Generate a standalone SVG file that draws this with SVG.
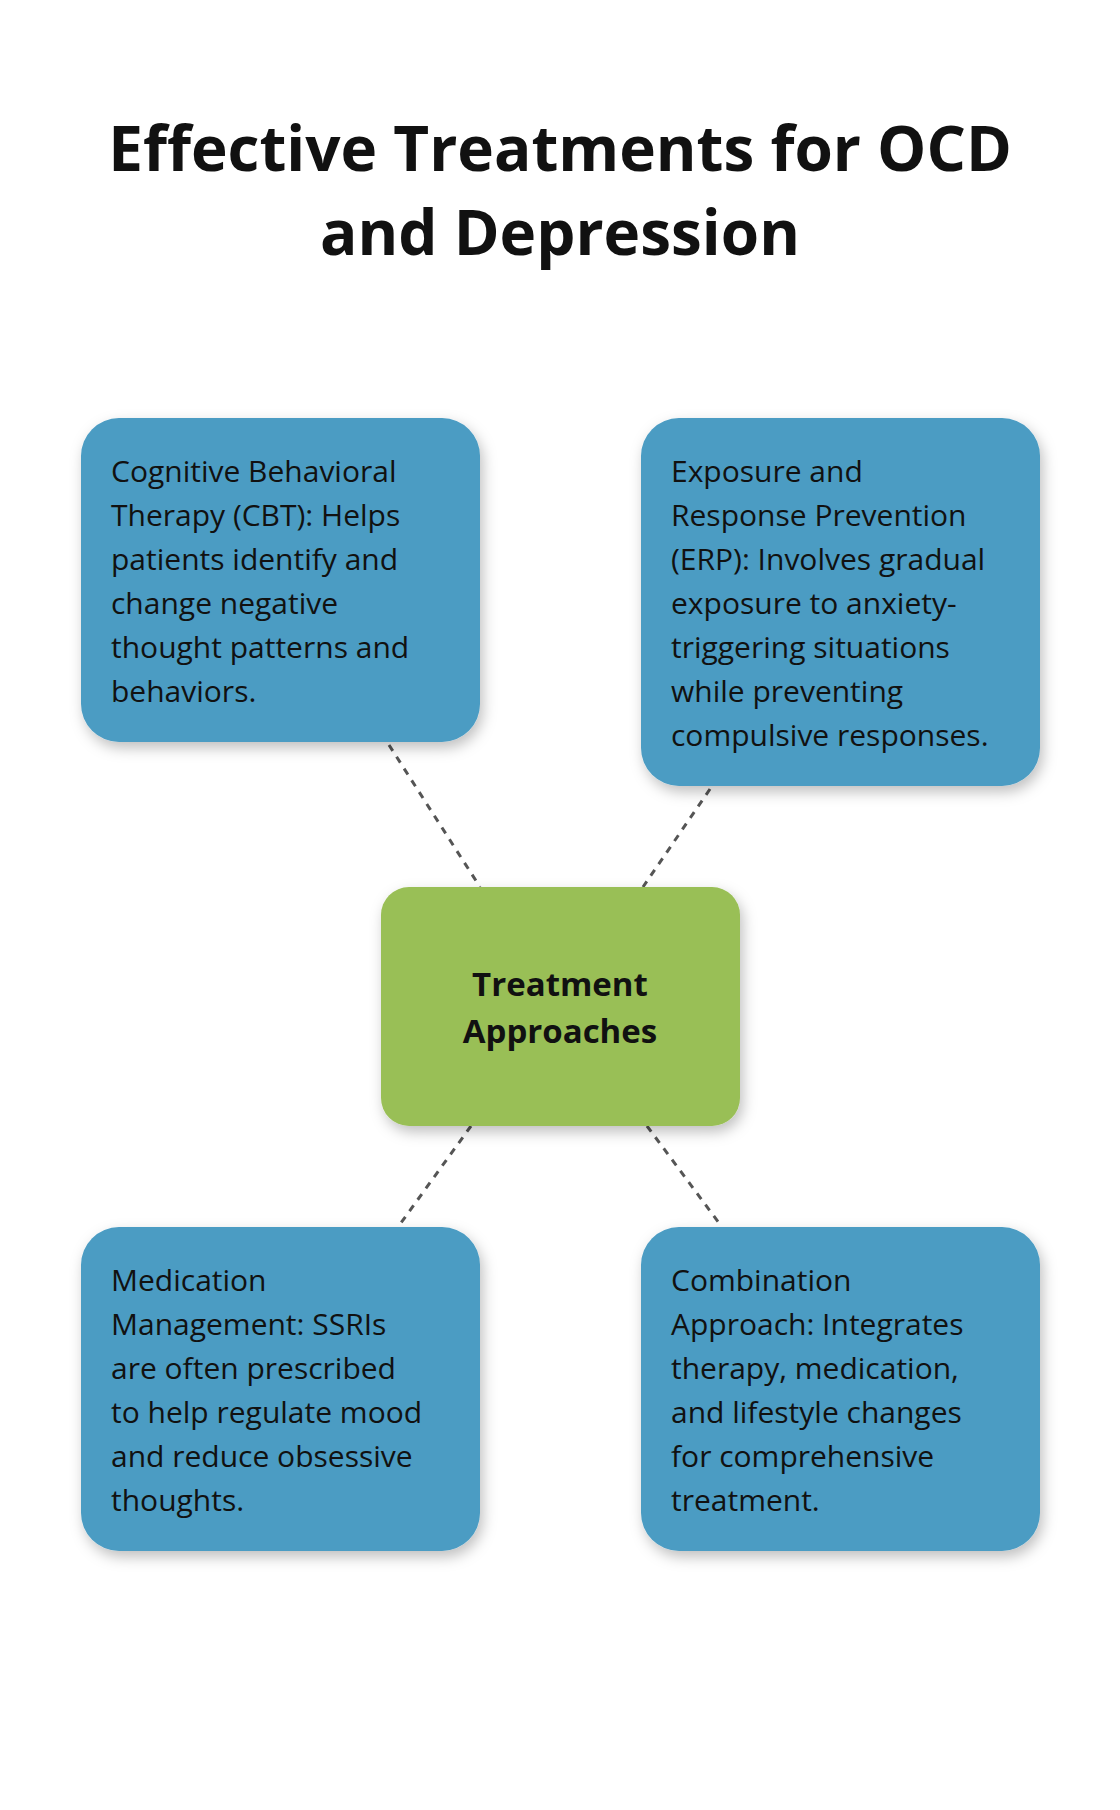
<svg xmlns="http://www.w3.org/2000/svg" width="1120" height="1810" viewBox="0 0 1120 1810">
<defs>
<filter id="sh" x="-20%" y="-20%" width="140%" height="140%"><feDropShadow dx="3" dy="6" stdDeviation="7" flood-color="#000" flood-opacity="0.25"/></filter>
<style>
.box{fill:#4b9cc3;filter:url(#sh)}
.ctr{fill:#99bf56;filter:url(#sh)}
.t{font-family:"Open Sans","Liberation Sans",sans-serif;font-size:30px;fill:#111}
.c{font-family:"Open Sans","Liberation Sans",sans-serif;font-size:33px;font-weight:bold;fill:#111;text-anchor:middle}
.ti{font-family:"Open Sans","Liberation Sans",sans-serif;font-size:62px;font-weight:bold;fill:#111;text-anchor:middle}
.ln{stroke:#555;stroke-width:3;stroke-dasharray:7 7;fill:none}
</style>
</defs>
<rect width="1120" height="1810" fill="#fff"/>
<text class="ti" x="560" y="171">Effective Treatments for OCD</text>
<text class="ti" x="560" y="255">and Depression</text>
<g id="connectors">
<line class="ln" x1="389" y1="745" x2="480" y2="887"/>
<line class="ln" x1="710" y1="789" x2="643" y2="887"/>
<line class="ln" x1="471" y1="1126" x2="398" y2="1227"/>
<line class="ln" x1="647" y1="1126" x2="722" y2="1227"/>
</g>
<g id="cbt"><rect class="box" x="81" y="418" width="399" height="324" rx="38"/>
<text class="t" x="111"><tspan x="111" y="482">Cognitive Behavioral</tspan><tspan x="111" y="526">Therapy (CBT): Helps</tspan><tspan x="111" y="570">patients identify and</tspan><tspan x="111" y="614">change negative</tspan><tspan x="111" y="658">thought patterns and</tspan><tspan x="111" y="702">behaviors.</tspan></text></g>
<g id="erp"><rect class="box" x="641" y="418" width="399" height="368" rx="38"/>
<text class="t"><tspan x="671" y="482">Exposure and</tspan><tspan x="671" y="526">Response Prevention</tspan><tspan x="671" y="570">(ERP): Involves gradual</tspan><tspan x="671" y="614">exposure to anxiety-</tspan><tspan x="671" y="658">triggering situations</tspan><tspan x="671" y="702">while preventing</tspan><tspan x="671" y="746">compulsive responses.</tspan></text></g>
<g id="center"><rect class="ctr" x="381" y="887" width="359" height="239" rx="28"/>
<text class="c"><tspan x="560" y="996">Treatment</tspan><tspan x="560" y="1043">Approaches</tspan></text></g>
<g id="med"><rect class="box" x="81" y="1227" width="399" height="324" rx="38"/>
<text class="t"><tspan x="111" y="1291">Medication</tspan><tspan x="111" y="1335">Management: SSRIs</tspan><tspan x="111" y="1379">are often prescribed</tspan><tspan x="111" y="1423">to help regulate mood</tspan><tspan x="111" y="1467">and reduce obsessive</tspan><tspan x="111" y="1511">thoughts.</tspan></text></g>
<g id="combo"><rect class="box" x="641" y="1227" width="399" height="324" rx="38"/>
<text class="t"><tspan x="671" y="1291">Combination</tspan><tspan x="671" y="1335">Approach: Integrates</tspan><tspan x="671" y="1379">therapy, medication,</tspan><tspan x="671" y="1423">and lifestyle changes</tspan><tspan x="671" y="1467">for comprehensive</tspan><tspan x="671" y="1511">treatment.</tspan></text></g>
</svg>
